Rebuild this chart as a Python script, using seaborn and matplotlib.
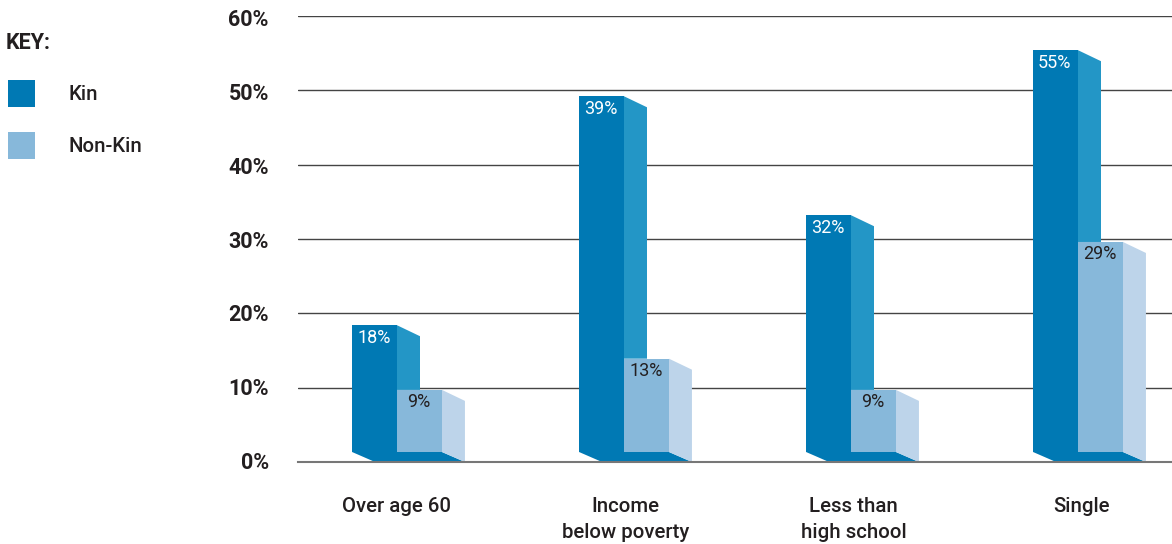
import matplotlib
matplotlib.use("Agg")
import matplotlib.pyplot as plt
from matplotlib.patches import Polygon, Rectangle
from matplotlib.transforms import ScaledTranslation
import pandas as pd
import seaborn as sns

categories = ["Over age 60", "Income\nbelow poverty", "Less than\nhigh school", "Single"]
# drawn bar heights (they do not always agree with the printed labels)
kin_heights = [18.4, 49.2, 33.2, 55.4]
nonkin_heights = [9.7, 13.9, 9.7, 29.6]
kin_labels = ["18%", "39%", "32%", "55%"]
nonkin_labels = ["9%", "13%", "9%", "29%"]
y_ticks = [0, 10, 20, 30, 40, 50, 60]
series_names = ["Kin", "Non-Kin"]

KIN = "#0079b4"
KIN_SIDE = "#2396c6"
NONKIN = "#87b8da"
NONKIN_SIDE = "#bdd4ea"
TEXT = "#231f20"

sns.set_theme(style="white")
plt.rcParams["font.family"] = ["Roboto", "Liberation Sans", "DejaVu Sans"]

W, H = 1172, 544
fig = plt.figure(figsize=(W / 100, H / 100), dpi=100)
ax = fig.add_axes([298 / W, 1 - 462 / H, (W - 298) / W, (462 - 16) / H])

data = pd.DataFrame({
    "category": categories * 2,
    "value": kin_heights + nonkin_heights,
    "series": [series_names[0]] * 4 + [series_names[1]] * 4,
})
sns.barplot(data=data, x="category", y="value", hue="series", order=categories,
            hue_order=series_names, palette=[KIN, NONKIN], width=0.396, gap=0,
            saturation=1, legend=False, linewidth=0, ax=ax, zorder=3, errorbar=None)

ax.set_xlim(-99 / 227, 775 / 227)
ax.set_ylim(0, 60)

# fake 3d: side and bottom faces, sizes are in pixels converted to data units
dx = 23 / 227
dy = 11 / 7.433
base = 10 / 7.433

bars = ax.containers
for i in range(len(categories)):
    kin_bar = bars[0][i]
    non_bar = bars[1][i]
    x0 = kin_bar.get_x()
    w = kin_bar.get_width()
    x1 = non_bar.get_x()
    top0 = kin_bar.get_height()
    top1 = non_bar.get_height()

    # front faces start above the axis line
    kin_bar.set_y(base)
    kin_bar.set_height(top0 - base)
    non_bar.set_y(base)
    non_bar.set_height(top1 - base)
    kin_bar.set_zorder(4)
    non_bar.set_zorder(6)

    # kin side
    ax.add_patch(Polygon([(x0 + w, top0), (x0 + w + dx, top0 - dy), (x0 + w + dx, top1),
                          (x0 + w, top1)], closed=True, fc=KIN_SIDE, ec="none", zorder=5))
    # non-kin side
    ax.add_patch(Polygon([(x1 + w, top1), (x1 + w + dx, top1 - dy), (x1 + w + dx, 0),
                          (x1 + w, base)], closed=True, fc=NONKIN_SIDE, ec="none", zorder=5))
    # floor under both bars
    ax.add_patch(Polygon([(x0, base), (x0 + dx, 0), (x1 + w + dx, 0), (x1 + w, base)],
                         closed=True, fc=KIN, ec="none", zorder=4))

    ax.text(x0 + w / 2 - 0.003, top0 - 1.7, kin_labels[i], color="white", fontsize=13,
            ha="center", va="center", zorder=8)
    ax.text(x1 + w / 2 - 0.003, top1 - 1.65, nonkin_labels[i], color=TEXT, fontsize=13,
            ha="center", va="center", zorder=8)

# gridlines
ax.set_yticks(y_ticks)
ax.set_yticklabels([f"{t}%" for t in y_ticks], fontsize=15.5, fontweight="bold", color=TEXT)
ax.yaxis.grid(True, color="#444444", linewidth=1)
ax.set_axisbelow(True)
ax.tick_params(axis="y", length=0, pad=21)
ax.set_xticks(range(len(categories)))
ax.set_xticklabels(categories, fontsize=14.7, fontweight="medium", color=TEXT, linespacing=1.5)
ax.tick_params(axis="x", length=0, pad=25)
ax.set_xlabel("")
ax.set_ylabel("")
# the reference's labels drift slightly right of the bar groups
for i, lab in enumerate(ax.get_xticklabels()):
    lab.set_transform(lab.get_transform() + ScaledTranslation(i * 1.3 / 100, 0, fig.dpi_scale_trans))
# tick labels sit a touch closer together than the gridlines
for t, lab in zip(y_ticks, ax.get_yticklabels()):
    shift = (30 - t) * 0.05 / 100
    lab.set_transform(lab.get_transform() + ScaledTranslation(0, shift, fig.dpi_scale_trans))
for side in ["top", "left", "right"]:
    ax.spines[side].set_visible(False)
ax.spines["bottom"].set_color("#777777")
ax.spines["bottom"].set_linewidth(1.5)
ax.spines["bottom"].set_zorder(9)

# key on the left
fig.text(6 / W, 1 - 43 / H, "KEY:", fontsize=15.5, fontweight="bold", color=TEXT, va="center")
for name, color, top in zip(series_names, [KIN, NONKIN], [80, 132]):
    fig.add_artist(Rectangle((8 / W, 1 - (top + 27) / H), 27 / W, 27 / H,
                             transform=fig.transFigure, fc=color, ec="none"))
    fig.text(68 / W, 1 - (top + 15) / H, name, fontsize=14.7, fontweight="medium", color=TEXT, va="center")

fig.savefig("out.png", dpi=100)
